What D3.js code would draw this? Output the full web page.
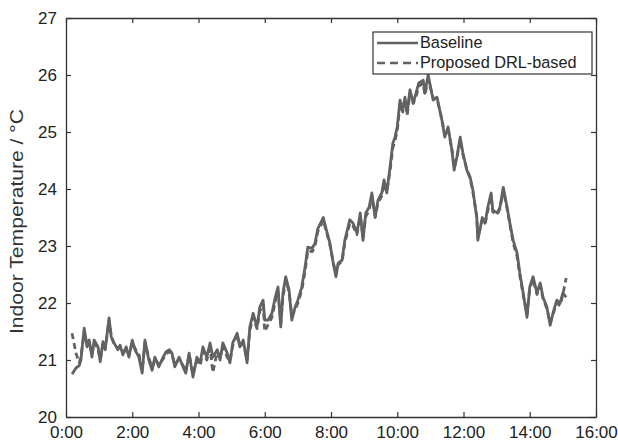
<!DOCTYPE html>
<html>
<head>
<meta charset="utf-8">
<script src="https://cdn.jsdelivr.net/npm/d3@7"></script>
<style>
  body { margin: 0; background: #fff; }
  svg { display: block; font-family: "Liberation Sans", Arial, sans-serif; }
</style>
</head>
<body>
<div id="chart"></div>
<script>
// time of day in minutes since 0:00
const minutes = [11,18,24,27,33,38,42,47,51,58,
  62,67,71,78,82,87,94,98,103,109,
  114,120,125,132,138,143,150,156,161,168,
  176,181,187,192,197,205,212,217,223,230,
  237,243,248,255,261,266,274,279,284,292,
  297,302,310,315,321,328,333,339,346,351,
  357,360,366,373,379,384,389,393,398,404,
  409,415,420,427,433,438,446,451,456,466,
  473,478,484,489,493,500,505,514,520,527,
  533,538,543,549,554,560,565,572,576,581,
  587,592,596,600,605,610,614,618,623,629,
  634,639,647,650,656,665,672,681,686,692,
  699,703,708,714,719,726,732,737,744,746,
  754,759,764,770,773,781,786,792,799,804,
  810,817,822,828,835,840,846,853,859,864,
  871,877,882,889,895,900,906];

const baseline = [20.75,20.86,20.9,21.0,21.56,21.23,21.35,21.05,21.35,21.23,
  20.97,21.32,21.18,21.74,21.4,21.3,21.18,21.26,21.09,21.23,
  21.05,21.35,21.18,21.05,20.77,21.35,21.0,20.82,21.05,20.88,
  21.05,21.14,21.18,21.12,20.88,21.05,20.88,20.77,21.12,20.7,
  21.05,20.95,21.23,21.05,21.3,21.05,21.18,21.0,21.3,21.12,
  20.95,21.3,21.47,21.23,21.35,20.95,21.58,21.82,21.58,21.93,
  22.05,21.7,21.7,21.82,22.1,22.28,21.58,22.18,22.46,22.23,
  21.7,21.93,22.05,22.28,22.63,22.98,22.96,23.05,23.3,23.5,
  23.23,23.05,22.7,22.46,22.7,22.75,23.1,23.46,23.4,23.23,
  23.58,23.1,23.58,23.68,23.93,23.5,23.8,23.93,24.16,23.93,
  24.39,24.8,24.91,25.09,25.56,25.39,25.61,25.33,25.74,25.51,
  25.68,25.86,25.91,25.68,26.0,25.56,25.61,25.2,24.91,25.09,
  24.68,24.33,24.56,24.91,24.63,24.33,24.21,23.98,23.5,23.1,
  23.5,23.4,23.68,23.93,23.63,23.58,23.68,24.03,23.68,23.4,
  23.1,22.88,22.53,22.18,21.75,22.28,22.46,22.18,22.35,22.1,
  21.93,21.61,21.82,22.05,22.0,22.18,22.1];

const proposed = [21.47,21.12,20.95,21.05,21.5,21.28,21.3,21.1,21.3,21.2,
  21.0,21.3,21.2,21.7,21.42,21.28,21.2,21.22,21.12,21.2,
  21.08,21.3,21.2,21.1,20.82,21.3,21.04,20.86,21.02,20.92,
  21.02,21.1,21.15,21.1,20.92,21.02,20.9,20.8,21.1,20.75,
  21.0,20.9,21.15,21.0,21.2,20.78,21.15,21.02,21.25,21.05,
  20.98,21.25,21.45,21.25,21.3,21.0,21.52,21.75,21.55,21.85,
  21.98,21.5,21.62,21.75,22.02,22.2,21.65,22.1,22.4,22.2,
  21.78,21.88,22.0,22.22,22.55,22.92,22.9,23.0,23.25,23.45,
  23.2,23.02,22.72,22.5,22.68,22.72,23.05,23.4,23.35,23.2,
  23.52,23.15,23.52,23.62,23.88,23.52,23.75,23.88,24.1,23.95,
  24.32,24.72,24.85,25.02,25.48,25.35,25.55,25.3,25.68,25.5,
  25.62,25.8,25.86,25.65,25.92,25.6,25.58,25.22,24.95,25.05,
  24.7,24.38,24.55,24.86,24.6,24.35,24.18,23.95,23.52,23.15,
  23.45,23.38,23.62,23.88,23.6,23.55,23.65,23.98,23.65,23.38,
  23.05,22.82,22.48,22.15,21.8,22.25,22.42,22.15,22.3,22.08,
  21.9,21.65,21.8,22.0,21.95,22.15,22.44];

const xTickLabels = ["0:00","2:00","4:00","6:00","8:00","10:00","12:00","14:00","16:00"];
const yTicks = [20,21,22,23,24,25,26,27];
const seriesNames = ["Baseline", "Proposed DRL-based"];

const width = 618, height = 446;
const margin = {top: 18, right: 22, bottom: 29, left: 66};
const innerW = width - margin.left - margin.right;
const innerH = height - margin.top - margin.bottom;
const lineColor = "#626262";
const axisColor = "#333";

const svg = d3.select("#chart").append("svg")
  .attr("width", width)
  .attr("height", height);

const x = d3.scaleLinear().domain([0, 960]).range([0, innerW]);
const y = d3.scaleLinear().domain([20, 27]).range([innerH, 0]);

const g = svg.append("g").attr("transform", `translate(${margin.left},${margin.top})`);

const xTickVals = xTickLabels.map(function (d) { return +d.split(":")[0] * 60; });

// axes, ticks pointing inward (box style)
const xBottom = g.append("g").attr("transform", `translate(0,${innerH})`)
  .call(d3.axisBottom(x).tickValues(xTickVals).tickSizeInner(-5).tickSizeOuter(0)
    .tickFormat(function (d, i) { return xTickLabels[i]; }).tickPadding(9));
const xTop = g.append("g")
  .call(d3.axisTop(x).tickValues(xTickVals).tickSizeInner(-5).tickSizeOuter(0).tickFormat(""));
const yLeft = g.append("g")
  .call(d3.axisLeft(y).tickValues(yTicks).tickSizeInner(-5).tickSizeOuter(0)
    .tickFormat(d3.format("d")).tickPadding(9));
const yRight = g.append("g").attr("transform", `translate(${innerW},0)`)
  .call(d3.axisRight(y).tickValues(yTicks).tickSizeInner(-5).tickSizeOuter(0).tickFormat(""));

[xBottom, xTop, yLeft, yRight].forEach(function (ax) {
  ax.select(".domain").attr("stroke", axisColor).attr("stroke-width", 1.3);
  ax.selectAll(".tick line").attr("stroke", axisColor).attr("stroke-width", 1.2);
  ax.selectAll(".tick text").attr("fill", "#222").attr("font-size", 17)
    .attr("font-family", "Liberation Sans, Arial, sans-serif");
});
xBottom.selectAll(".tick text").attr("dy", "0.71em");

// y axis title
svg.append("text")
  .attr("transform", `translate(23,${margin.top + innerH / 2 + 4}) rotate(-90)`)
  .attr("text-anchor", "middle")
  .attr("font-size", 18)
  .attr("fill", "#333")
  .attr("textLength", 225)
  .attr("lengthAdjust", "spacingAndGlyphs")
  .text("Indoor Temperature / °C");

const line = function (vals) {
  return d3.line()
    .x(function (d, i) { return x(minutes[i]); })
    .y(function (d) { return y(d); })(vals);
};

g.append("path")
  .attr("d", line(proposed))
  .attr("fill", "none")
  .attr("stroke", lineColor)
  .attr("stroke-width", 2.8)
  .attr("stroke-dasharray", "6,4")
  .attr("stroke-linejoin", "round");

g.append("path")
  .attr("d", line(baseline))
  .attr("fill", "none")
  .attr("stroke", lineColor)
  .attr("stroke-width", 2.8)
  .attr("stroke-linejoin", "round");

// legend
const lg = svg.append("g").attr("transform", "translate(373,32)");
lg.append("rect")
  .attr("width", 219).attr("height", 42)
  .attr("fill", "#fff").attr("stroke", axisColor).attr("stroke-width", 1.2);
seriesNames.forEach(function (name, i) {
  const yy = 11 + i * 20;
  lg.append("line")
    .attr("x1", 4).attr("x2", 45).attr("y1", yy).attr("y2", yy)
    .attr("stroke", lineColor).attr("stroke-width", 2.6)
    .attr("stroke-dasharray", i === 1 ? "8,5" : null);
  lg.append("text")
    .attr("x", 47).attr("y", yy + 5)
    .attr("font-size", 16.3)
    .attr("fill", "#222")
    .text(name);
});
</script>
</body>
</html>
